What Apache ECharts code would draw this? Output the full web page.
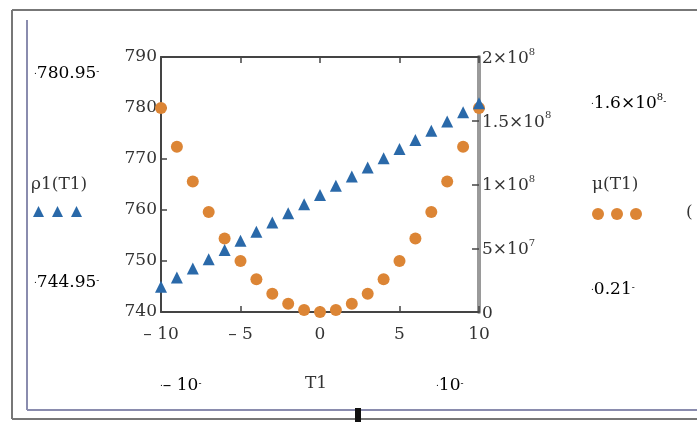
<!DOCTYPE html>
<html><head><meta charset="utf-8">
<script src="https://cdn.jsdelivr.net/npm/echarts@6/dist/echarts.min.js"></script>
<style>html,body{margin:0;padding:0;background:#fff}#c{width:697px;height:422px}</style>
</head><body><div id="c"></div>
<script>
var T1 = [-10,-9,-8,-7,-6,-5,-4,-3,-2,-1,0,1,2,3,4,5,6,7,8,9,10];
var rho1 = [744.95,746.75,748.55,750.35,752.15,753.95,755.75,757.55,759.35,761.15,762.95,764.75,766.55,768.35,770.15,771.95,773.75,775.55,777.35,779.15,780.95];
var mu = [1.6e8,1.296e8,1.024e8,7.84e7,5.76e7,4.0e7,2.56e7,1.44e7,6.4e6,1.6e6,0.21,1.6e6,6.4e6,1.44e7,2.56e7,4.0e7,5.76e7,7.84e7,1.024e8,1.296e8,1.6e8];
var xTicks = [-10,-5,0,5,10];
var leftTicks = [740,750,760,770,780,790];
var rightTicks = ['0','5×10^7','1×10^8','1.5×10^8','2×10^8'];
var texts = {rhoName:'ρ1(T1)', muName:'μ(T1)', xName:'T1', rhoMax:'780.95', rhoMin:'744.95', muMax:'1.6×10^8', muMin:'0.21', xMin:'– 10', xMax:'10'};

var FONT = '"DejaVu Serif", "Liberation Serif", serif';
var FS = 17;
var TC = '#333';
var BLUE = '#2a69a9', ORANGE = '#dc8535';

var chart = echarts.init(document.getElementById('c'));
function pts(ys){ return T1.map(function(t,i){return [t, ys[i]];}); }
function sup(s){ var p = s.split('^'); return p.length>1 ? '{b|'+p[0]+'}{s|'+p[1]+'}' : '{b|'+s+'}'; }
var rich = {b:{fontSize:FS, fontFamily:FONT, color:TC, lineHeight:20, verticalAlign:'bottom'}, s:{fontSize:10, fontFamily:FONT, color:TC, verticalAlign:'top', lineHeight:20, padding:[0,0,8,0]}, m:{fontSize:9, fontFamily:FONT, color:TC}};
function limitText(s){ return '{m|.}' + sup(s) + '{m|-}'; }

var option = {
  animation:false,
  backgroundColor:'#fff',
  grid:{left:161, right:218, top:57, bottom:110, show:false},
  xAxis:[{
    type:'value', min:-10, max:10, interval:5, position:'bottom',
    axisLine:{show:true, onZero:false, lineStyle:{color:'#444', width:2}},
    axisTick:{show:true, inside:true, length:6, lineStyle:{color:'#444', width:1.5}},
    splitLine:{show:false},
    axisLabel:{fontFamily:FONT, fontSize:FS, color:TC, margin:14,
      formatter:function(v){ var i = xTicks.indexOf(v); return i<0 ? '' : (v<0 ? '– '+Math.abs(v) : String(v)); }}
  },{
    type:'value', min:-10, max:10, interval:5, position:'top',
    axisLine:{show:true, onZero:false, lineStyle:{color:'#444', width:2}},
    axisTick:{show:true, inside:true, length:6, lineStyle:{color:'#444', width:1.5}},
    axisLabel:{show:false}, splitLine:{show:false}
  }],
  yAxis:[{
    type:'value', min:740, max:790, interval:10, position:'left',
    axisLine:{show:true, onZero:false, lineStyle:{color:'#444', width:2}},
    axisTick:{show:true, inside:true, length:6, lineStyle:{color:'#444', width:1.5}},
    splitLine:{show:false},
    axisLabel:{fontFamily:FONT, fontSize:FS, color:TC, margin:4,
      formatter:function(v){ return leftTicks.indexOf(v)<0 ? '' : String(v); }}
  },{
    type:'value', min:0, max:2e8, interval:5e7, position:'right',
    axisLine:{show:true, onZero:false, lineStyle:{color:'#9a9a9a', width:4}},
    axisTick:{show:true, inside:true, length:7, lineStyle:{color:'#444', width:1.5}},
    splitLine:{show:false},
    axisLabel:{margin:3, rich:rich,
      formatter:function(v){ var i = Math.round(v/5e7); return sup(rightTicks[i]); }}
  }],
  series:[{
    type:'scatter', xAxisIndex:0, yAxisIndex:1, data:pts(mu),
    symbol:'circle', symbolSize:12, itemStyle:{color:ORANGE, opacity:1}, z:3
  },{
    type:'scatter', xAxisIndex:0, yAxisIndex:0, data:pts(rho1),
    symbol:'triangle', symbolSize:12, itemStyle:{color:BLUE, opacity:1}, z:4
  }],
  graphic:[
    {type:'line', shape:{x1:12, y1:10, x2:697, y2:10}, style:{stroke:'#777', lineWidth:2}},
    {type:'line', shape:{x1:12, y1:10, x2:12, y2:419}, style:{stroke:'#777', lineWidth:2}},
    {type:'line', shape:{x1:12, y1:419, x2:697, y2:419}, style:{stroke:'#777', lineWidth:2}},
    {type:'line', shape:{x1:27, y1:20, x2:27, y2:410}, style:{stroke:'#8a8cae', lineWidth:2}},
    {type:'line', shape:{x1:27, y1:410, x2:697, y2:410}, style:{stroke:'#8a8cae', lineWidth:2}},
    {type:'rect', shape:{x:355, y:408, width:6, height:14}, style:{fill:'#111'}},
    {type:'text', left:34, top:65, style:{text:limitText(texts.rhoMax), rich:rich}},
    {type:'text', left:34, top:274, style:{text:limitText(texts.rhoMin), rich:rich}},
    {type:'text', left:31, top:176, style:{text:texts.rhoName, fontFamily:FONT, fontSize:FS, fill:TC}},
    {type:'text', left:591, top:92, style:{text:limitText(texts.muMax), rich:rich}},
    {type:'text', left:591, top:281, style:{text:limitText(texts.muMin), rich:rich}},
    {type:'text', left:592, top:176, style:{text:texts.muName, fontFamily:FONT, fontSize:FS, fill:TC}},
    {type:'text', left:160, top:377, style:{text:limitText(texts.xMin), rich:rich}},
    {type:'text', left:436, top:377, style:{text:limitText(texts.xMax), rich:rich}},
    {type:'text', left:305, top:375, style:{text:texts.xName, fontFamily:FONT, fontSize:FS, fill:TC}},
    {type:'polygon', shape:{points:[[33,217],[38.5,206],[44,217]]}, style:{fill:BLUE}},
    {type:'polygon', shape:{points:[[52,217],[57.5,206],[63,217]]}, style:{fill:BLUE}},
    {type:'polygon', shape:{points:[[71,217],[76.5,206],[82,217]]}, style:{fill:BLUE}},
    {type:'circle', shape:{cx:598, cy:214, r:6}, style:{fill:ORANGE}},
    {type:'circle', shape:{cx:617, cy:214, r:6}, style:{fill:ORANGE}},
    {type:'circle', shape:{cx:636, cy:214, r:6}, style:{fill:ORANGE}},
    {type:'text', left:686, top:204, style:{text:'(', fontFamily:FONT, fontSize:FS, fill:TC}}
  ]
};
chart.setOption(option);
</script></body></html>
